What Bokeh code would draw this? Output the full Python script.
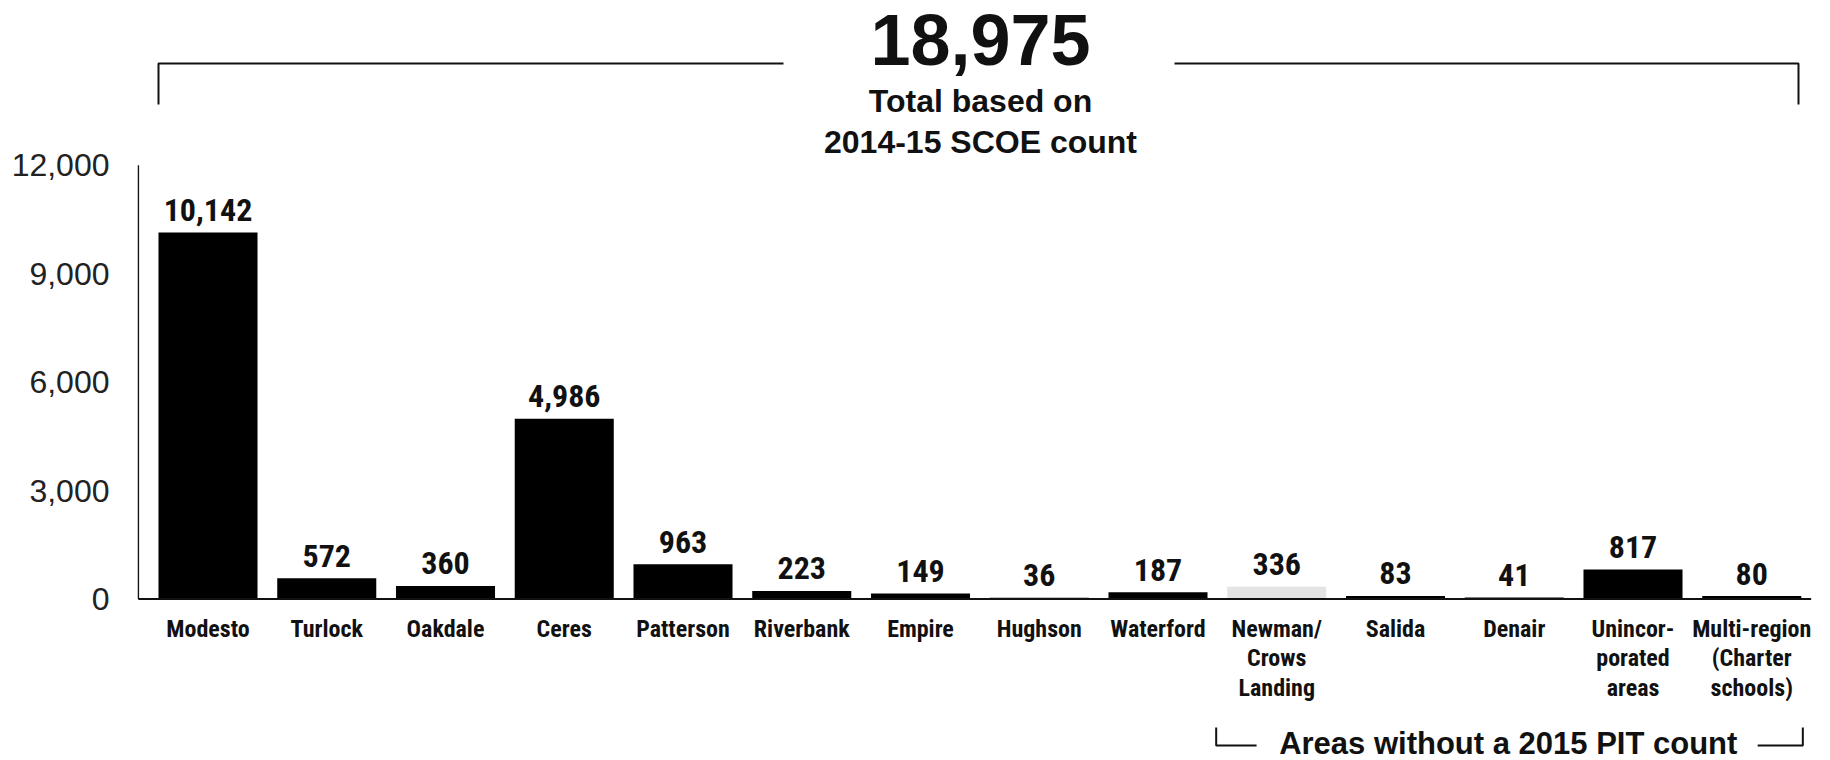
from bokeh.plotting import figure
from bokeh.models import Range1d, FixedTicker, NumeralTickFormatter, ColumnDataSource
from bokeh.core.properties import value
from bokeh.embed import file_html
from bokeh.resources import INLINE

# ---------------- data ----------------
categories = ["Modesto", "Turlock", "Oakdale", "Ceres", "Patterson", "Riverbank",
              "Empire", "Hughson", "Waterford", "Newman/\nCrows\nLanding", "Salida",
              "Denair", "Unincor-\nporated\nareas", "Multi-region\n(Charter\nschools)"]
counts = [10142, 572, 360, 4986, 963, 223, 149, 36, 187, 336, 83, 41, 817, 80]
y_ticks = [0, 3000, 6000, 9000, 12000]
total_lines = ["Total based on", "2014-15 SCOE count"]
no_pit_label = "Areas without a 2015 PIT count"
no_pit_first = 9  # first category without a 2015 PIT count

# ---------------- layout (pixels) ----------------
W, H = 1830, 760
FRAME_LEFT = 137
X0_PX, STEP = 207.5, 118.75          # centre of first bar, spacing between bars
Y0_PX, K = 598.5, 433.7 / 12000.0    # baseline pixel row, pixels per unit
BASE_SHIFT = 0.36                    # correction for alphabetic baseline placement

def dx(px):
    return (px - X0_PX) / STEP

def dy(py):
    return (Y0_PX - py) / K

def base(py, size):
    return dy(py - BASE_SHIFT * size)

COND = value("'Roboto Condensed', 'DejaVu Sans Condensed', Roboto, sans-serif")
SANS = value("Liberation Sans")
INK = "#111111"
VAL_SIZE = 32
CAT_SIZE = 24

p = figure(width=W, height=H, output_backend="svg", toolbar_location=None,
           x_axis_location=None, y_axis_location="left",
           x_range=Range1d(dx(FRAME_LEFT), dx(W)), y_range=Range1d(dy(H), dy(0)),
           min_border_left=FRAME_LEFT, min_border_right=0,
           min_border_top=0, min_border_bottom=0)
p.outline_line_color = None
p.xgrid.visible = False
p.ygrid.visible = False
p.background_fill_color = "white"
p.border_fill_color = "white"

# y axis
ax = p.yaxis[0]
ax.ticker = FixedTicker(ticks=y_ticks)
ax.formatter = NumeralTickFormatter(format="0,0")
ax.axis_line_color = None
ax.major_tick_line_color = None
ax.minor_tick_line_color = None
ax.major_tick_in = 0
ax.major_tick_out = 0
ax.major_label_standoff = 28
ax.major_label_text_font = "Liberation Sans"
ax.major_label_text_font_size = "32px"
ax.major_label_text_color = "#222222"

xs = list(range(len(categories)))
colors = ["#e4e4e4" if c.startswith("Newman") else "#000000" for c in categories]
src = ColumnDataSource(dict(x=xs, count=counts, cat=categories, color=colors,
                            label=[f"{v:,}" for v in counts]))

AXIS_X = dx(FRAME_LEFT + 0.8)
# axis line and baseline
p.segment(x0=AXIS_X, y0=0, x1=AXIS_X, y1=max(y_ticks), line_color=INK, line_width=1.6)

p.vbar(x="x", top="count", bottom=0, width=0.834, fill_color="color",
       line_color=None, source=src)
p.segment(x0=AXIS_X, y0=0, x1=len(categories) - 1 + 0.5, y1=0,
          line_color=INK, line_width=1.8)

# value labels
p.text(x="x", y="count", text="label", source=src, text_align="center",
       text_baseline="alphabetic", y_offset=-11 - BASE_SHIFT * VAL_SIZE,
       text_font=COND, text_font_style="bold", text_font_size=f"{VAL_SIZE}px",
       text_color=INK)

# category labels
p.text(x="x", y=0, text="cat", source=src, text_align="center",
       text_baseline="top", y_offset=16, text_font=COND, text_font_style="bold",
       text_font_size=f"{CAT_SIZE}px", text_line_height=1.05, text_color=INK)

# total header with bracket
total = sum(counts)
p.multi_line(xs=[[dx(158), dx(158), dx(783)], [dx(1174), dx(1798), dx(1798)]],
             ys=[[dy(104), dy(63), dy(63)], [dy(63), dy(63), dy(104)]],
             line_color=INK, line_width=2)
p.text(x=[dx(980)], y=[base(65, 72)], text=[f"{total:,}"], text_align="center",
       text_baseline="alphabetic", text_font=SANS, text_font_style="bold",
       text_font_size="72px", text_color=INK)
p.text(x=[dx(980), dx(980)], y=[base(112, 32), base(153, 32)], text=total_lines,
       text_align="center", text_baseline="alphabetic", text_font=SANS,
       text_font_style="bold", text_font_size="32px", text_color=INK)

# bracket under the areas without a PIT count
left_b = no_pit_first - 0.51
right_b = len(categories) - 1 + 0.43
p.multi_line(xs=[[left_b, left_b, left_b + 0.34], [right_b - 0.38, right_b, right_b]],
             ys=[[dy(727), dy(745), dy(745)], [dy(745), dy(745), dy(727)]],
             line_color=INK, line_width=2)
p.text(x=[left_b + 0.53], y=[base(754, 31)], text=[no_pit_label], text_align="left",
       text_baseline="alphabetic", text_font=SANS, text_font_style="bold",
       text_font_size="31px", text_color=INK)

open("out.html", "w").write(file_html(p, INLINE))
